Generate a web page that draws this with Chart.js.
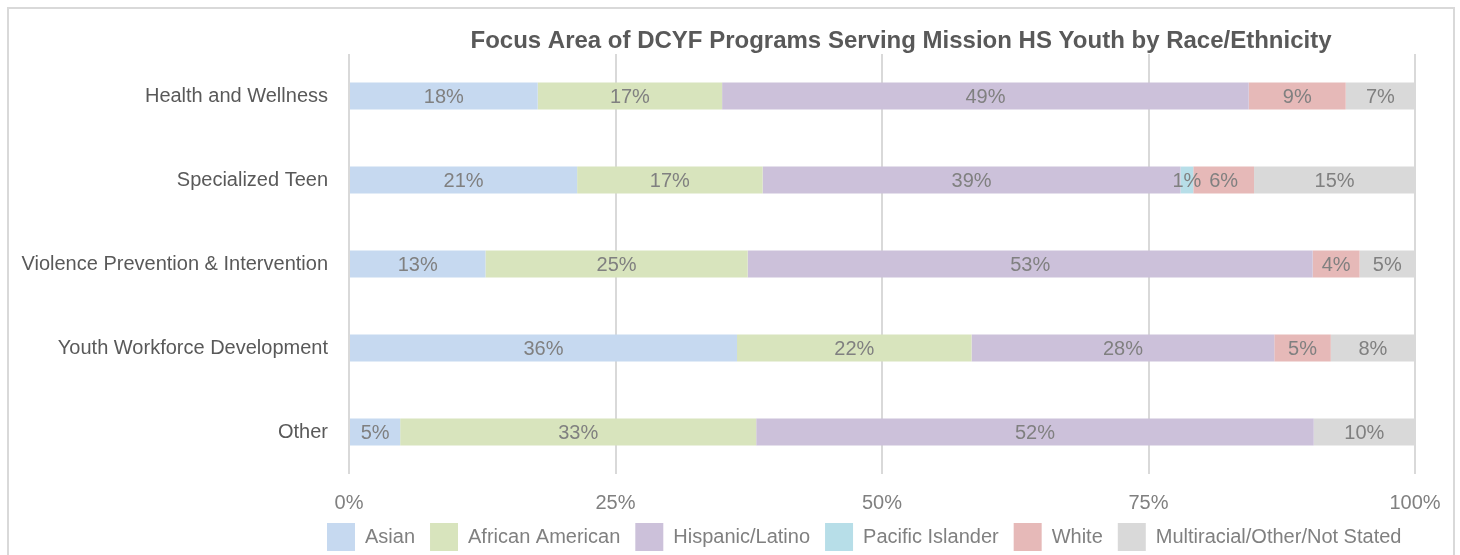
<!DOCTYPE html>
<html>
<head>
<meta charset="utf-8">
<script src="https://cdn.jsdelivr.net/npm/chart.js@4.4.0/dist/chart.umd.min.js"></script>
<style>
    html, body { margin: 0; padding: 0; background: #fff; }
    #wrap { position: relative; width: 1460px; height: 555px; overflow: hidden; }
    #frame {
        position: absolute; left: 7px; top: 7px; width: 1448px; height: 560px;
        border: 2px solid #d9d9d9; box-sizing: border-box;
    }
    canvas { position: absolute; left: 0; top: 0; }
</style>
</head>
<body>
<div id="wrap">
    <div id="frame"></div>
    <canvas id="raceChart" width="1460" height="555"></canvas>
</div>
<script>
// Focus areas (rows, top to bottom)
const focusAreas = [
    'Health and Wellness',
    'Specialized Teen',
    'Violence Prevention & Intervention',
    'Youth Workforce Development',
    'Other'
];

// Share of youth per race/ethnicity, in percent
const asian = [17.7, 21.4, 12.8, 36.4, 4.8];
const africanAmerican = [17.3, 17.4, 24.6, 22.0, 33.4];
const hispanicLatino = [49.4, 39.2, 53.0, 28.4, 52.3];
const pacificIslander = [0, 1.2, 0, 0, 0];
const white = [9.1, 5.7, 4.4, 5.3, 0];
const multiracialOther = [6.5, 15.1, 5.2, 7.9, 9.5];

const xTicks = [0, 25, 50, 75, 100];

const FONT = '"Liberation Sans Narrow", "Arial Narrow", "Liberation Sans", Arial, sans-serif';

const series = [
    { label: 'Asian', data: asian, color: '#c6d9f0' },
    { label: 'African American', data: africanAmerican, color: '#d8e4bd' },
    { label: 'Hispanic/Latino', data: hispanicLatino, color: '#ccc1da' },
    { label: 'Pacific Islander', data: pacificIslander, color: '#b7dee8' },
    { label: 'White', data: white, color: '#e6b9b8' },
    { label: 'Multiracial/Other/Not Stated', data: multiracialOther, color: '#d9d9d9' }
];

// draws the rounded percent inside each segment
const segmentLabels = {
    id: 'segmentLabels',
    afterDatasetsDraw(chart) {
        const ctx = chart.ctx;
        ctx.save();
        ctx.font = '20px ' + FONT;
        ctx.fillStyle = '#808080';
        ctx.textAlign = 'center';
        ctx.textBaseline = 'middle';
        chart.data.datasets.forEach((ds, i) => {
            const meta = chart.getDatasetMeta(i);
            meta.data.forEach((bar, j) => {
                const v = ds.data[j];
                if (!v) return;
                const props = bar.getProps(['x', 'base', 'y'], true);
                const cx = (props.x + props.base) / 2;
                ctx.fillText(Math.round(v) + '%', cx, props.y + 1);
            });
        });
        ctx.restore();
    }
};

// title centred over the plot region, like the original
const chartTitle = {
    id: 'chartTitle',
    afterDraw(chart) {
        const ctx = chart.ctx;
        ctx.save();
        ctx.font = 'bold 24px ' + FONT;
        ctx.fillStyle = '#595959';
        ctx.textAlign = 'center';
        ctx.textBaseline = 'middle';
        ctx.fillText('Focus Area of DCYF Programs Serving Mission HS Youth by Race/Ethnicity', 901, 41);
        ctx.restore();
    }
};

// move the legend row so it starts under the y labels, as in the original
const legendShift = {
    id: 'legendShift',
    afterLayout(chart) {
        const lg = chart.legend;
        if (!lg) return;
        const dx = 312 - lg.left;
        lg.left += dx;
        lg.right += dx;
        lg.top -= 7;
        lg.bottom -= 7;
    }
};

const ctx = document.getElementById('raceChart');
new Chart(ctx, {
    type: 'bar',
    data: {
        labels: focusAreas,
        datasets: series.map(s => ({
            label: s.label,
            data: s.data,
            backgroundColor: s.color,
            borderWidth: 0,
            barPercentage: 0.64,
            categoryPercentage: 0.5
        }))
    },
    options: {
        indexAxis: 'y',
        responsive: false,
        animation: false,
        layout: {
            padding: { top: 54, right: 45, left: 0, bottom: -13 }
        },
        plugins: {
            legend: {
                position: 'bottom',
                align: 'start',
                labels: {
                    boxWidth: 28,
                    boxHeight: 28,
                    padding: 15,
                    color: '#808080',
                    font: { family: FONT, size: 20 }
                }
            },
            tooltip: { enabled: false }
        },
        scales: {
            x: {
                stacked: true,
                min: 0,
                max: 100,
                afterBuildTicks: axis => {
                    axis.ticks = xTicks.map(v => ({ value: v }));
                },
                afterFit: scale => { scale.height = 41; },
                grid: {
                    color: '#d9d9d9',
                    lineWidth: 2,
                    drawTicks: false
                },
                border: { display: false },
                ticks: {
                    padding: 17,
                    color: '#808080',
                    font: { family: FONT, size: 20 },
                    callback: v => v + '%'
                }
            },
            y: {
                stacked: true,
                afterFit: scale => { scale.width = 349; },
                grid: { display: false, drawTicks: false },
                border: { display: false },
                ticks: {
                    padding: 21,
                    color: '#595959',
                    font: { family: FONT, size: 20 }
                }
            }
        }
    },
    plugins: [segmentLabels, chartTitle, legendShift]
});
</script>
</body>
</html>
